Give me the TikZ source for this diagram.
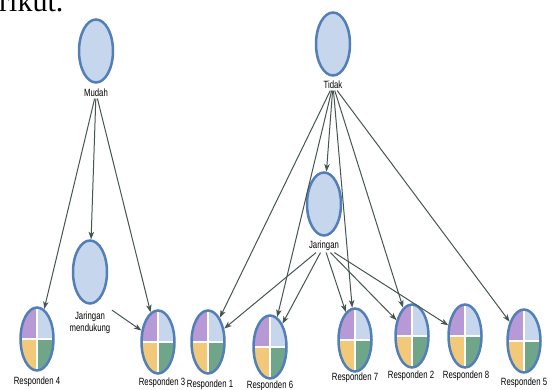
\documentclass[tikz,border=0pt]{standalone}
\usepackage{fontspec}
\setmainfont{Liberation Serif}
\newfontfamily\labfont[FakeStretch=0.74]{Liberation Sans}
\usetikzlibrary{shapes.geometric,arrows.meta}
\definecolor{bl}{HTML}{C6D6EC}
\definecolor{bd}{HTML}{527FB8}
\definecolor{pu}{HTML}{B799D6}
\definecolor{ye}{HTML}{F2C879}
\definecolor{gr}{HTML}{6FA588}
\definecolor{ec}{HTML}{45554F}
\tikzset{
  cnode/.style={ellipse, draw=bd, line width=2.5pt, fill=bl, minimum width=34pt, minimum height=63pt, inner sep=0pt},
  rnode/.style={ellipse, draw=bd, line width=2.5pt, minimum width=33pt, minimum height=63pt, inner sep=0pt,
    path picture={
      \fill[pu] (path picture bounding box.center) rectangle (path picture bounding box.north west);
      \fill[bl] (path picture bounding box.center) rectangle (path picture bounding box.north east);
      \fill[ye] (path picture bounding box.center) rectangle (path picture bounding box.south west);
      \fill[gr] (path picture bounding box.center) rectangle (path picture bounding box.south east);
      \draw[white, line width=2.5pt] (path picture bounding box.north) -- (path picture bounding box.south)
        (path picture bounding box.west) -- (path picture bounding box.east);
    }},
  lab/.style={font=\labfont\fontsize{10.5}{12.5}\selectfont, inner sep=1.5pt, text=black, align=center},
  conn/.style={draw=ec, line width=1pt, -{Stealth[length=7.5pt,width=5.5pt,inset=2pt]}}
}
\begin{document}
\begin{tikzpicture}[x=1pt,y=-1pt]
\useasboundingbox (0,0) rectangle (556,390);
\node[anchor=base west, inner sep=0pt, font=\fontsize{30}{32}\selectfont] (top) at (-1,12) {rikut.};
% source nodes
\node[cnode] (mudah) at (96,51) {};
\node[lab] (mudahL) at (96,93) {Mudah};
\node[cnode] (tidak) at (333,44) {};
\node[lab] (tidakL) at (333,85) {Tidak};
\node[cnode] (jar) at (324,204) {};
\node[lab] (jarL) at (324,246) {Jaringan};
\node[cnode] (jm) at (90,272) {};
\node[lab] (jmL) at (90,323) {Jaringan\\mendukung};
% respondents
\node[rnode] (r4) at (37,339) {};
\node[lab] (r4L) at (37,382) {Responden 4};
\node[rnode] (r3) at (158,342) {};
\node[lab] (r3L) at (162,383) {Responden 3};
\node[rnode] (r1) at (208,342) {};
\node[lab] (r1L) at (210,385) {Responden 1};
\node[rnode] (r6) at (270,347) {};
\node[lab] (r6L) at (270,386) {Responden 6};
\node[rnode] (r7) at (355,340) {};
\node[lab] (r7L) at (355,378) {Responden 7};
\node[rnode] (r2) at (412,336) {};
\node[lab] (r2L) at (411,376) {Responden 2};
\node[rnode] (r8) at (465,336) {};
\node[lab] (r8L) at (466,376) {Responden 8};
\node[rnode] (r5) at (524,341) {};
\node[lab] (r5L) at (524,383) {Responden 5};
% edges
\draw[conn] (mudahL) -- (r4);
\draw[conn] (mudahL) -- (jm);
\draw[conn] (mudahL) -- (r3);
\draw[conn] (jmL.north east) -- (r3);
\draw[conn] (tidakL) -- (r1);
\draw[conn] (tidakL) -- (r6);
\draw[conn] (tidakL) -- (jar);
\draw[conn] (tidakL) -- (r7);
\draw[conn] (tidakL) -- (r2);
\draw[conn] (tidakL) -- (r5);
\draw[conn] (jarL) -- (r1);
\draw[conn] (jarL) -- (r6);
\draw[conn] (jarL) -- (r7);
\draw[conn] (jarL) -- (r2);
\draw[conn] (jarL) -- (r8);
\end{tikzpicture}
\end{document}
